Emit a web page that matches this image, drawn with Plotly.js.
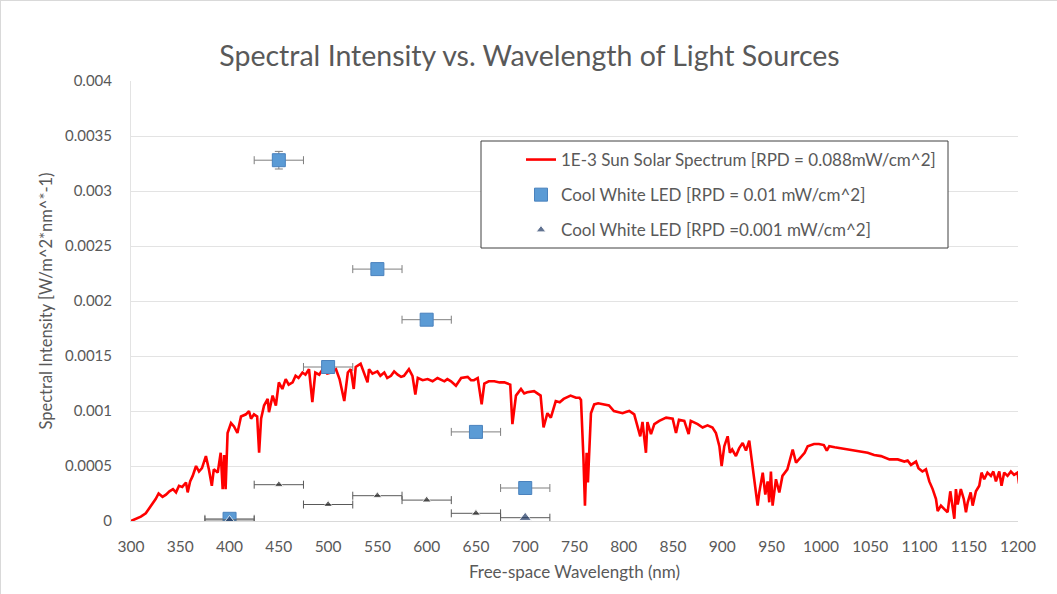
<!DOCTYPE html>
<html>
<head>
<meta charset="utf-8">
<script src="https://cdn.plot.ly/plotly-3.0.1.min.js"></script>
<style>
  html, body { margin: 0; padding: 0; background: #ffffff; }
  #chart { width: 1057px; height: 594px; box-sizing: border-box; border: 1px solid #d9d9d9; }
</style>
</head>
<body>
<div id="chart"></div>
<script>
// Solar spectrum scaled to 1E-3 sun (wavelength in nm, intensity in W/m^2/nm)
const solarWavelength = [
  300, 305, 310, 315, 320, 325, 328, 332, 335.5, 339, 342.6, 345.7, 348.7, 352, 355.8, 357.5, 360, 362.6, 366, 369,
  372, 376, 379, 382, 384, 388, 391, 393, 394.5, 396, 398, 401.5, 404.5, 408, 411.6, 416.7, 419.7, 421.8, 424.8, 428,
  430, 432, 435, 438.7, 440, 443.7, 447, 450, 453.6, 457, 460, 464, 467, 470, 474, 477, 480.6, 484, 487, 491,
  494.5, 499, 503, 508, 511.6, 516.4, 520, 523, 526, 528, 533, 536, 540, 541.5, 545, 550, 553, 557, 560, 563.8,
  567, 570.6, 574, 577, 582, 585.6, 588.5, 591, 596, 601, 606, 611, 615, 618, 621, 624.7, 629.7, 635, 641.6, 645,
  648, 651.8, 655.8, 658.5, 663, 668.6, 674, 678.8, 684.8, 687, 690.6, 695.7, 699, 702, 709, 712, 715.6, 718.6, 722.5, 726,
  731, 735, 739, 746, 751.5, 755, 756.6, 759, 760.6, 762.3, 763.6, 766.7, 770, 774, 778.5, 785, 790, 795, 798.8, 802,
  805.6, 810.6, 814, 816.7, 819, 822.5, 824, 827.6, 831, 836, 843, 849.6, 853, 856, 861.4, 865.8, 868, 875, 880, 885,
  890, 893.5, 897, 899.3, 902, 905.4, 907.7, 910, 913.8, 917, 920.6, 924, 927.3, 929, 932.4, 935.8, 937.5, 941, 943.6, 946,
  947.6, 949.3, 951, 954.4, 957.8, 961, 966, 971.4, 974.8, 980, 983.5, 986.6, 990, 993, 998, 1003, 1006, 1008.5, 1014, 1020,
  1027, 1034, 1041, 1047.5, 1054, 1061, 1069.6, 1078, 1084.7, 1088, 1091.4, 1096.5, 1099, 1103, 1106.6, 1110, 1113.4, 1116.8, 1118.5, 1121.8,
  1125, 1128.6, 1131.3, 1133.7, 1135.4, 1137, 1138.8, 1142, 1145, 1147.2, 1149, 1152, 1154, 1157.3, 1160.7, 1163, 1165.7, 1169, 1172.5, 1175,
  1177.6, 1181, 1183.3, 1186, 1189.4, 1192.8, 1196, 1199.6, 1201
];
const solarIntensity = [
  0, 0.00002, 0.00004, 0.00007, 0.00013, 0.0002, 0.00025, 0.00022, 0.00024, 0.00027, 0.00029, 0.00026, 0.00032, 0.00031, 0.00035, 0.00026, 0.00036, 0.00041, 0.0005, 0.00045,
  0.00048, 0.00059, 0.00047, 0.00032, 0.00047, 0.00044, 0.00062, 0.00029, 0.0006, 0.00029, 0.0008, 0.00089, 0.00086, 0.0008, 0.00095, 0.00097, 0.001, 0.00093, 0.00097, 0.00095,
  0.00062, 0.00093, 0.00105, 0.00111, 0.00099, 0.00114, 0.00105, 0.00126, 0.0012, 0.00129, 0.00124, 0.00126, 0.00132, 0.0013, 0.00135, 0.00133, 0.00138, 0.00108, 0.00135, 0.00133,
  0.00138, 0.00134, 0.00135, 0.00138, 0.00129, 0.00109, 0.00135, 0.00138, 0.0012, 0.0014, 0.00143, 0.00135, 0.00126, 0.00138, 0.00134, 0.00136, 0.00132, 0.00135, 0.0013, 0.00132,
  0.00136, 0.00133, 0.00131, 0.00132, 0.00138, 0.00132, 0.00115, 0.0013, 0.00128, 0.00129, 0.00127, 0.0013, 0.00128, 0.00127, 0.00129, 0.00127, 0.00123, 0.0013, 0.00131, 0.00128,
  0.00128, 0.0013, 0.00106, 0.00125, 0.00127, 0.00127, 0.00126, 0.00126, 0.00124, 0.00088, 0.00114, 0.0012, 0.00116, 0.00117, 0.00118, 0.00116, 0.00114, 0.00085, 0.00098, 0.00094,
  0.00109, 0.00108, 0.00111, 0.00114, 0.00112, 0.00112, 0.0011, 0.00059, 0.00014, 0.00062, 0.00035, 0.00098, 0.00106, 0.00107, 0.00106, 0.00105, 0.001, 0.00099, 0.00098, 0.00099,
  0.001, 0.00097, 0.00085, 0.00077, 0.0009, 0.00062, 0.0009, 0.00079, 0.00088, 0.00091, 0.00094, 0.00093, 0.0008, 0.00092, 0.00091, 0.00079, 0.00091, 0.00088, 0.00085, 0.00087,
  0.00085, 0.0008, 0.00068, 0.0005, 0.00068, 0.00077, 0.00062, 0.00065, 0.00059, 0.00066, 0.00071, 0.00064, 0.00073, 0.00062, 0.00038, 0.00014, 0.00026, 0.00044, 0.00024, 0.00036,
  0.00017, 0.00045, 0.00014, 0.00038, 0.00026, 0.00041, 0.00047, 0.00065, 0.00053, 0.00058, 0.00062, 0.00068, 0.00069, 0.0007, 0.0007, 0.00069, 0.00064, 0.00068, 0.00067, 0.00066,
  0.00065, 0.00064, 0.00063, 0.00062, 0.0006, 0.00059, 0.00056, 0.00056, 0.00054, 0.00055, 0.00051, 0.00054, 0.00048, 0.00045, 0.00047, 0.00036, 0.00029, 0.0002, 0.00009, 0.00014,
  0.00011, 0.00008, 0.00027, 0.00011, 0.00002, 0.00029, 0.00015, 0.00029, 0.0002, 0.00008, 0.00017, 0.00026, 0.00014, 0.00027, 0.00032, 0.00044, 0.00038, 0.00044, 0.00041, 0.00045,
  0.00036, 0.00045, 0.00032, 0.00044, 0.00041, 0.00045, 0.00042, 0.00044, 0.00034
];

// Cool white LED measurements at two radiant power densities
const ledWavelength = [400, 450, 500, 550, 600, 650, 700];
const ledWavelengthError = [25, 25, 25, 25, 25, 25, 25];
const ledHighIntensity = [0.00002, 0.00328, 0.0014, 0.00229, 0.00183, 0.00081, 0.0003];
const ledHighIntensityError = [0.00001, 0.00008, 0.00002, 0.00002, 0.00002, 0.00001, 0.00001];
const ledLowIntensity = [0.00001, 0.00033, 0.00015, 0.00023, 0.00019, 0.00007, 0.00003];

// Axis ticks
const xTickValues = [300, 350, 400, 450, 500, 550, 600, 650, 700, 750, 800, 850, 900, 950, 1000, 1050, 1100, 1150, 1200];
const yTickValues = [0, 0.0005, 0.001, 0.0015, 0.002, 0.0025, 0.003, 0.0035, 0.004];
const yTickLabels = ['0', '0.0005', '0.001', '0.0015', '0.002', '0.0025', '0.003', '0.0035', '0.004'];

const fontFamily = 'Lato, "Open Sans", sans-serif';
const textGrey = '#595959';

// plot area in pixels: x 130..1017, y 80..520
const plotLeft = 130, plotWidth = 887, plotTop = 80, plotHeight = 440;
const px = v => (v - plotLeft) / plotWidth;
const py = v => (plotTop + plotHeight - v) / plotHeight;

const traces = [
  {
    type: 'scatter', mode: 'lines',
    name: '1E-3 Sun Solar Spectrum [RPD = 0.088mW/cm^2]',
    x: solarWavelength, y: solarIntensity,
    line: { color: '#ff0000', width: 2.6 },
    legendgroup: 'sun'
  },
  {
    type: 'scatter', mode: 'markers',
    name: 'Cool White LED [RPD = 0.01 mW/cm^2]',
    x: ledWavelength, y: ledHighIntensity,
    marker: { symbol: 'square', size: 13, color: '#5b9bd5', line: { color: '#4a82bd', width: 1 } },
    error_x: { type: 'data', array: ledWavelengthError, visible: true, color: '#7f7f7f', thickness: 1, width: 4 },
    error_y: { type: 'data', array: ledHighIntensityError, visible: true, color: '#7f7f7f', thickness: 1, width: 4 },
    legendgroup: 'ledHigh'
  },
  {
    type: 'scatter', mode: 'markers',
    name: 'Cool White LED [RPD =0.001 mW/cm^2]',
    x: ledWavelength, y: ledLowIntensity,
    marker: {
      symbol: 'triangle-up',
      size: [9, 8, 8, 8, 8, 8, 11],
      color: ['#1f3864', '#262626', '#262626', '#262626', '#262626', '#262626', '#1f3864']
    },
    error_x: { type: 'data', array: ledWavelengthError, visible: true, color: '#595959', thickness: 1, width: 4 },
    legendgroup: 'ledLow'
  }
];

const layout = {
  width: 1057, height: 594,
  paper_bgcolor: '#ffffff', plot_bgcolor: '#ffffff',
  margin: { l: plotLeft, r: 1057 - plotLeft - plotWidth, t: plotTop, b: 594 - plotTop - plotHeight },
  font: { family: fontFamily, size: 15, color: textGrey },
  title: {
    text: 'Spectral Intensity vs. Wavelength of Light Sources',
    font: { family: fontFamily, size: 28.5, color: textGrey },
    x: 0.5, xanchor: 'center', xref: 'container',
    y: 1 - 55 / 594, yanchor: 'middle', yref: 'container'
  },
  xaxis: {
    range: [300, 1200],
    tickvals: xTickValues,
    ticktext: xTickValues.map(String),
    showgrid: false, zeroline: false,
    showline: true, linecolor: '#d9d9d9', linewidth: 1,
    ticks: 'outside', ticklen: 11, tickcolor: 'rgba(0,0,0,0)',
    tickfont: { size: 15.5, color: textGrey },
    title: { text: 'Free-space Wavelength (nm)', font: { size: 17, color: textGrey }, standoff: 12 }
  },
  yaxis: {
    range: [0, 0.004],
    tickvals: yTickValues,
    ticktext: yTickLabels,
    showgrid: true, gridcolor: '#e3e3e3', gridwidth: 1,
    zeroline: false,
    showline: true, linecolor: '#e3e3e3', linewidth: 1,
    ticks: 'outside', ticklen: 15, tickcolor: 'rgba(0,0,0,0)',
    tickfont: { size: 15, color: textGrey },
    title: { text: 'Spectral Intensity [W/m^2*nm^*-1)', font: { size: 16.5, color: textGrey }, standoff: 8 }
  },
  // legend frame
  shapes: [{
    type: 'rect', xref: 'paper', yref: 'paper', layer: 'above',
    x0: px(480), x1: px(947), y0: py(247), y1: py(140),
    line: { color: '#404040', width: 1 }, fillcolor: '#ffffff'
  }],
  showlegend: true,
  legend: {
    x: px(520), xanchor: 'left',
    y: py(141), yanchor: 'top',
    bgcolor: 'rgba(0,0,0,0)', borderwidth: 0,
    font: { size: 17, color: textGrey },
    tracegroupgap: 10,
    itemwidth: 30
  }
};

Plotly.newPlot('chart', traces, layout, { displayModeBar: false, staticPlot: true });
</script>
</body>
</html>
